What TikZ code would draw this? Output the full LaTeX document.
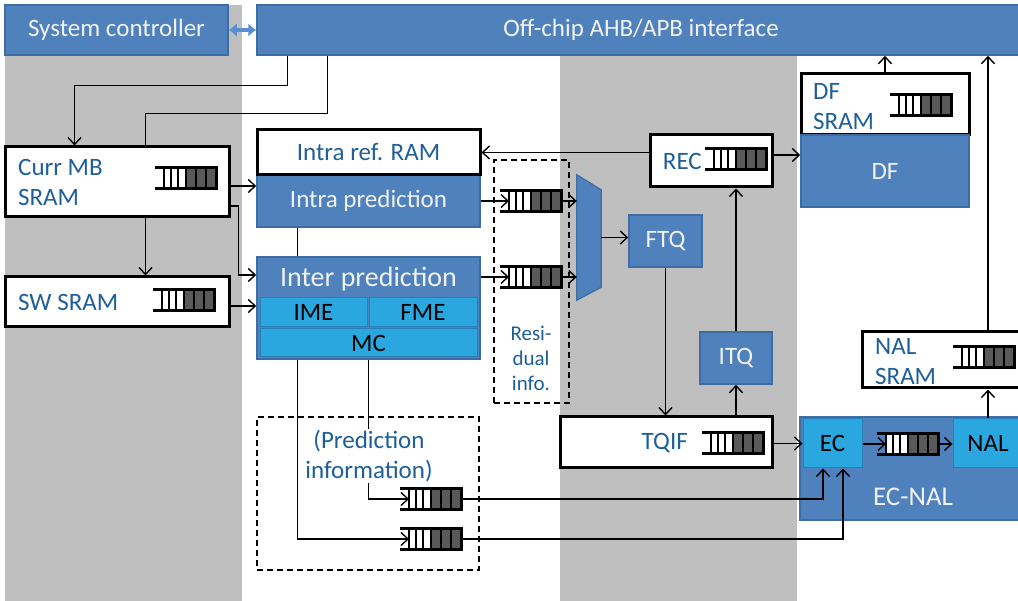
\documentclass[tikz,border=0pt]{standalone}
\usepackage{fontspec}
\setmainfont{Carlito}
\usetikzlibrary{arrows.meta}
\definecolor{bblue}{HTML}{4F81BD}
\definecolor{bblueD}{HTML}{3D6DA3}
\definecolor{lblue}{HTML}{2AA7DF}
\definecolor{lblueD}{HTML}{2B7FB8}
\definecolor{bgrey}{HTML}{BFBFBF}
\definecolor{tblue}{HTML}{1F5F99}
\definecolor{fdark}{HTML}{595959}
\definecolor{wtxt}{HTML}{F2F2F2}
\definecolor{darrow}{HTML}{5B8ED0}
\tikzset{
  fifo/.pic={
    \fill[white] (9,-10.5) rectangle (31,10.5);
    \fill[fdark] (31,-10.5) rectangle (61,10.5);
    \foreach \xx in {9,16,23,31,41,51} \draw[line width=1.8pt] (\xx,-10.5) -- (\xx,10.5);
    \draw[line width=3pt] (0,-10.5) -- (61,-10.5) -- (61,10.5) -- (0,10.5);
    \coordinate (-in) at (9,0);
    \coordinate (-out) at (61,0);
  }
}
\begin{document}
\begin{tikzpicture}[x=1pt,y=-1pt,
  font=\fontsize{25}{30}\selectfont,
  bluebox/.style={draw=bblueD, fill=bblue, line width=1.5pt, text=wtxt, inner sep=0pt},
  lbox/.style={draw=lblueD, fill=lblue, line width=1pt, text=black, inner sep=0pt},
  wbox/.style={draw=black, fill=white, line width=3pt, inner sep=0pt},
  lbl/.style={text=tblue, align=left, inner sep=0pt, anchor=west},
  conn/.style={line width=1.4pt, draw=black},
  arr/.style={conn, -{Straight Barb[length=7pt,width=13pt]}},
  dbox/.style={draw=black, dash pattern=on 6pt off 4pt, line width=1.5pt, inner sep=0pt}
]
\path[use as bounding box] (0,0) rectangle (1018,601);
\clip (0,0) rectangle (1018,601);

% background stripes
\fill[bgrey] (5,5) rectangle (242,601);
\fill[bgrey] (560,55) rectangle (797,601);

% top row
\node[bluebox, minimum width=223pt, minimum height=50pt] (sysctl) at (116.5,30) {System controller};
\node[bluebox, minimum width=768pt, minimum height=50pt] (offchip) at (641,30) {Off-chip AHB/APB interface};
\draw[line width=4pt, darrow, {Latex[length=8pt,width=14pt]}-{Latex[length=8pt,width=14pt]}] (sysctl.east) -- (offchip.west);

% left memories
\node[wbox, minimum width=224pt, minimum height=70pt] (currmb) at (117,182) {};
\node[lbl] (currlbl) at (18,182) {Curr MB\\SRAM};
\pic (fcurr) at (155,178) {fifo};
\node[wbox, minimum width=224pt, minimum height=50pt] (swsram) at (117,302) {};
\node[lbl] (swlbl) at (18,302) {SW SRAM};
\pic (fsw) at (153,300) {fifo};

% intra
\node[bluebox, minimum width=223pt, minimum height=52pt] (intrapred) at (368.5,201) {Intra prediction};
\node[wbox, minimum width=223pt, minimum height=45pt, text=tblue] (intraref) at (368.5,152.5) {Intra ref. RAM};

% inter
\node[bluebox, minimum width=223pt, minimum height=102pt] (inter) at (368.5,308) {};
\node[text=wtxt, inner sep=0pt, font=\fontsize{28}{32}\selectfont] (intertxt) at (368.5,279) {Inter prediction};
\node[lbox, minimum width=107pt, minimum height=29pt] (ime) at (313.5,312.5) {IME};
\node[lbox, minimum width=108pt, minimum height=29pt] (fme) at (423,312.5) {FME};
\node[lbox, minimum width=217pt, minimum height=28pt] (mc) at (368.5,343) {MC};

% residual info
\node[dbox, minimum width=75pt, minimum height=243pt] (resbox) at (531.5,281.5) {};
\node[text=tblue, align=center, inner sep=0pt, font=\fontsize{21}{25}\selectfont] (restxt) at (531,358) {Resi-\\dual\\info.};
\pic (fr1) at (500,201) {fifo};
\pic (fr2) at (500,277) {fifo};

% mux
\node[minimum width=24pt, minimum height=125pt, inner sep=0pt] (mux) at (589,237.5) {};
\draw[fill=bblue, draw=bblueD, line width=1.2pt] (mux.north west) -- ([yshift=-15pt]mux.north east) -- ([yshift=13pt]mux.south east) -- (mux.south west) -- cycle;

% transform path
\node[bluebox, minimum width=73pt, minimum height=52pt] (ftq) at (665.5,241) {FTQ};
\node[wbox, minimum width=122pt, minimum height=52pt] (rec) at (711,161) {};
\node[lbl, anchor=east] (reclbl) at (702,161) {REC};
\pic (frec) at (705,159) {fifo};
\node[bluebox, minimum width=72pt, minimum height=52pt] (itq) at (736,358) {ITQ};
\node[wbox, minimum width=212pt, minimum height=51pt] (tqif) at (666,442.5) {};
\node[lbl, anchor=east] (tqiflbl) at (688,443) {TQIF};
\pic (ftqif) at (702,443) {fifo};

% DF
\node[wbox, minimum width=168pt, minimum height=61pt] (dfsram) at (885,104.5) {};
\node[lbl] (dflbl) at (813,107) {DF\\SRAM};
\pic (fdf) at (890,105) {fifo};
\node[bluebox, minimum width=168pt, minimum height=72pt] (df) at (885,171) {DF};

% NAL
\node[wbox, minimum width=168pt, minimum height=56pt] (nalsram) at (946,360) {};
\node[lbl] (nallbl) at (875,362) {NAL\\SRAM};
\pic (fnal) at (953,357) {fifo};
\node[bluebox, minimum width=230pt, minimum height=103pt] (ecnal) at (915,468.5) {};
\node[text=wtxt, inner sep=0pt, font=\fontsize{27}{31}\selectfont] (ecnaltxt) at (913,497) {EC-NAL};
\node[lbox, minimum width=59pt, minimum height=49pt] (ec) at (832.5,443.5) {EC};
\node[lbox, minimum width=70pt, minimum height=49pt] (nal) at (988,443.5) {NAL};
\pic (fec) at (877,444) {fifo};

% prediction info
\node[dbox, minimum width=222pt, minimum height=153pt] (predbox) at (368,493.5) {};
\pic (fp1) at (400,499) {fifo};
\pic (fp2) at (400,539) {fifo};

% connectors
\draw[arr] ([xshift=31pt]offchip.south west) -- ++(0,30) -| ([xshift=71pt]currmb.north west);
\draw[conn] ([xshift=142pt]currmb.north west) -- ++(0,-32) -| ([xshift=71pt]offchip.south west);
\draw[arr] ([xshift=142pt]currmb.south west) -- ([xshift=142pt]swsram.north west);
\draw[arr] ([yshift=-4pt]currmb.east) -- ([yshift=15pt]intrapred.west);
\draw[arr] ([yshift=-24pt]currmb.east) -- ++(8,0) |- ([yshift=33pt]inter.west);
\draw[arr] ([yshift=-4pt]swsram.east) -- ([yshift=2pt]inter.west);
\draw[conn] ([xshift=41pt]intrapred.south west) -- ([xshift=41pt]inter.north west);
\draw[arr] (intrapred.east) -- (fr1-in);
\draw[arr] ([yshift=31pt]inter.east) -- (fr2-in);
\draw[arr] (fr1-out) -- (fr1-out -| mux.west);
\draw[arr] (fr2-out) -- (fr2-out -| mux.west);
\draw[arr] (mux.east) -- (ftq.west |- mux.east);
\draw[arr] (rec.west |- intraref.east) -- (intraref.east);
\draw[arr] ([yshift=6pt]rec.east) -- ([yshift=16pt]df.west);
\draw[arr] (ftq.south) -- (tqif.north -| ftq.south);
\draw[arr] (itq.south |- tqif.north) -- (itq.south);
\draw[arr] (itq.north) -- (rec.south -| itq.north);
\draw[arr] (tqif.east |- ec.west) -- (ec.west);
\draw[arr] (ec.east |- fec-in) -- (fec-in);
\draw[arr] (fec-out) -- (nal.west |- fec-out);
\draw[arr] (nal.north) -- (nalsram.south -| nal.north);
\draw[arr] (nalsram.north -| nal.north) -- (offchip.south -| nal.north);
\draw[arr] (dfsram.north) -- (offchip.south -| dfsram.north);
\draw[arr] (inter.south) |- (fp1-in);
\draw[arr] ([xshift=41pt]inter.south west) |- (fp2-in);
\draw[arr] (fp1-out) -| ([xshift=-9.5pt]ec.south);
\draw[arr] (fp2-out) -| ([xshift=10.5pt]ec.south);

% prediction text (covers line)
\node[text=tblue, fill=white, align=center, inner sep=1pt] (predtxt) at (369,456) {(Prediction\\information)};
\end{tikzpicture}
\end{document}
